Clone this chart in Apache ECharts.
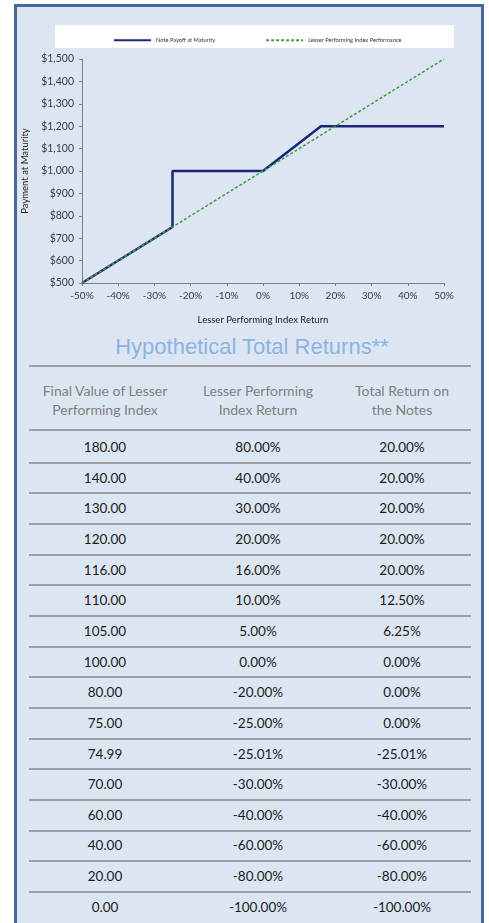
<!DOCTYPE html>
<html>
<head>
<meta charset="utf-8">
<script src="https://cdn.jsdelivr.net/npm/echarts@6.0.0/dist/echarts.min.js"></script>
<style>
  html, body { margin: 0; padding: 0; background: #fff; width: 489px; height: 923px; overflow: hidden; }
  #panel { position: absolute; left: 14px; top: 4px; width: 464px; height: 940px;
           border: 3px solid #46699a; background: #dce6f2; }
  #chart { position: absolute; left: 0; top: 0; width: 489px; height: 330px; }
  #title { position: absolute; left: 52px; width: 400px; top: 333px; height: 28px; line-height: 28px;
           text-align: center; font-family: "Liberation Sans", Arial, sans-serif; font-size: 22px; color: #8db3e2; }
  .rule { position: absolute; left: 29px; width: 442px; height: 2px; background: #9c9ea2; }
  .cell { position: absolute; width: 160px; text-align: center; font-family: Lato, "Open Sans", sans-serif; }
  .head { font-size: 14px; line-height: 19px; color: #7f7f7f; }
  .val { font-size: 13.5px; height: 20px; line-height: 20px; color: #1a1a1a; }
</style>
</head>
<body>
<div id="panel"></div>
<div id="chart"></div>
<div id="title">Hypothetical Total Returns**</div>
<div id="table"></div>
<script>
// payoff diagram
const payoffX = [-50, -25, -25, 0, 16, 50];
const payoffY = [500, 750, 1000, 1000, 1200, 1200];
const indexX = [-50, 50];
const indexY = [500, 1500];

// table
const headers = ['Final Value of Lesser<br>Performing Index', 'Lesser Performing<br>Index Return', 'Total Return on<br>the Notes'];
const finalValue = ['180.00', '140.00', '130.00', '120.00', '116.00', '110.00', '105.00', '100.00', '80.00', '75.00', '74.99', '70.00', '60.00', '40.00', '20.00', '0.00'];
const indexReturn = ['80.00%', '40.00%', '30.00%', '20.00%', '16.00%', '10.00%', '5.00%', '0.00%', '-20.00%', '-25.00%', '-25.01%', '-30.00%', '-40.00%', '-60.00%', '-80.00%', '-100.00%'];
const totalReturn = ['20.00%', '20.00%', '20.00%', '20.00%', '20.00%', '12.50%', '6.25%', '0.00%', '0.00%', '0.00%', '-25.01%', '-30.00%', '-40.00%', '-60.00%', '-80.00%', '-100.00%'];

const chart = echarts.init(document.getElementById('chart'));
const font = 'Lato, "Open Sans", sans-serif';

chart.setOption({
    animation: false,
    graphic: [{
        type: 'rect',
        shape: { x: 55, y: 25, width: 399, height: 23 },
        style: { fill: '#fff' },
        z: -1
    }],
    legend: {
        left: 108,
        top: 32,
        itemWidth: 37,
        itemHeight: 8,
        itemGap: 50,
        itemStyle: { opacity: 0 },
        textStyle: { fontSize: 5.7, color: '#333', fontFamily: font },
        data: ['Note Payoff at Maturity', 'Lesser Performing Index Performance']
    },
    grid: { left: 82, right: 45, top: 59, bottom: 47 },
    xAxis: {
        type: 'value',
        min: -50,
        max: 50,
        interval: 10,
        name: 'Lesser Performing Index Return',
        nameLocation: 'middle',
        nameGap: 32,
        nameTextStyle: { fontSize: 9.5, color: '#222', fontFamily: font },
        axisLine: { onZero: false, lineStyle: { color: '#808080', width: 1 } },
        axisTick: { show: true, length: 3, lineStyle: { color: '#808080' } },
        axisLabel: { margin: 8, fontSize: 10, color: '#3a3a3a', fontFamily: font, formatter: v => v + '%' },
        splitLine: { show: false }
    },
    yAxis: {
        type: 'value',
        min: 500,
        max: 1500,
        interval: 100,
        name: 'Payment at Maturity',
        nameLocation: 'middle',
        nameGap: 45,
        nameTextStyle: { fontSize: 9.5, color: '#222', fontFamily: font },
        axisLine: { show: true, onZero: false, lineStyle: { color: '#808080', width: 1 } },
        axisTick: { show: true, length: 3, lineStyle: { color: '#808080' } },
        axisLabel: { margin: 8, fontSize: 10.5, color: '#3a3a3a', fontFamily: font,
            formatter: v => '$' + v.toLocaleString('en-US') },
        splitLine: { show: false }
    },
    series: [{
        name: 'Note Payoff at Maturity',
        type: 'line',
        symbol: 'none',
        z: 3,
        lineStyle: { color: '#1c2577', width: 2.5 },
        itemStyle: { color: '#1c2577' },
        data: payoffX.map((x, i) => [x, payoffY[i]])
    }, {
        name: 'Lesser Performing Index Performance',
        type: 'line',
        symbol: 'none',
        z: 4,
        lineStyle: { color: '#3f9c45', width: 1.5, type: [3, 2] },
        itemStyle: { color: '#3f9c45' },
        data: indexX.map((x, i) => [x, indexY[i]])
    }]
});

// table built from the arrays
const table = document.getElementById('table');
const colCenter = [105, 258, 402];
let html = '<div class="rule" style="top:365px"></div><div class="rule" style="top:429px"></div>';
headers.forEach((h, c) => {
    html += '<div class="cell head" style="left:' + (colCenter[c] - 80) + 'px;top:380.5px">' + h + '</div>';
});
finalValue.forEach((v, i) => {
    const mid = 447 + 30.65 * i;
    [v, indexReturn[i], totalReturn[i]].forEach((t, c) => {
        html += '<div class="cell val" style="left:' + (colCenter[c] - 80) + 'px;top:' + (mid - 10) + 'px">' + t + '</div>';
    });
    if (i < finalValue.length - 1) {
        html += '<div class="rule" style="top:' + (mid + 14.7) + 'px"></div>';
    }
});
table.innerHTML = html;
</script>
</body>
</html>
